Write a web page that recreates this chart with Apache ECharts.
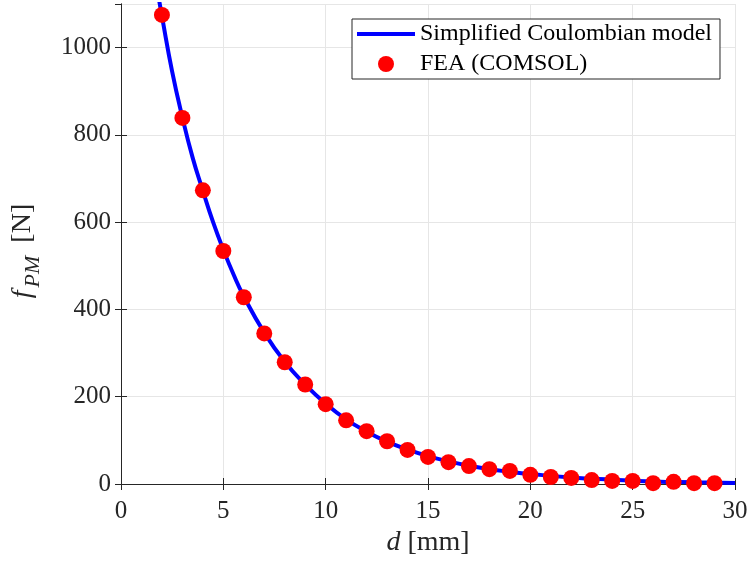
<!DOCTYPE html>
<html><head><meta charset="utf-8">
<script src="https://cdn.jsdelivr.net/npm/echarts@6/dist/echarts.min.js"></script>
<style>html,body{margin:0;padding:0;background:#fff}#c{width:749px;height:564px}</style>
</head><body><div id="c"></div>
<script>
// FEA (COMSOL) points
const feaD = [2,3,4,5,6,7,8,9,10,11,12,13,14,15,16,17,18,19,20,21,22,23,24,25,26,27,28,29];
const feaF = [1075,839,673,534,428,345,279,228,183,146,121,98,78,62,50,41,34,30,21,16,14,9,7,7,2,5,2,2];
// Simplified Coulombian model curve
const modelD = [1.8,2,2.5,3,3.5,4,4.5,5,5.5,6,7,8,9,10,11,12,13,14,15,16,17,18,19,20,22,24,26,28,30];
const modelF = [1125,1072,945,840,748,672,600,537,480,430,347,280,228,184,148,120,97,79,64,52,42,34,28,23,15,10,6,4,2.5];
const xTicks = {min:0, max:30, interval:5};
const yTicks = {min:0, max:1100, interval:200};

const chart = echarts.init(document.getElementById('c'));
const font = 'Liberation Serif, Times New Roman, serif';
const axisColor = '#262626';
chart.setOption({
  animation:false,
  grid:{left:121, right:14, top:4, bottom:80, outerBoundsMode:'none', containLabel:false},
  legend:{
    left:352, top:19, orient:'vertical', padding:[3,8,3,5], itemGap:6,
    itemWidth:58, itemHeight:16, selectedMode:false,
    backgroundColor:'#fff', borderColor:axisColor, borderWidth:1,
    textStyle:{fontFamily:font, fontSize:24, color:'#000', lineHeight:24},
    data:[
      {name:'Simplified Coulombian model', icon:'path://M0,0 H60 V4 H0 Z'},
      {name:'FEA (COMSOL)', icon:'circle'}
    ]
  },
  xAxis:[{
    type:'value', min:xTicks.min, max:xTicks.max, interval:xTicks.interval,
    name:'{i|d} [mm]', nameLocation:'middle', nameGap:44,
    nameTextStyle:{fontFamily:font, fontSize:28, color:axisColor, rich:{i:{fontFamily:font,fontSize:28,fontStyle:'italic',color:axisColor}}},
    axisLine:{lineStyle:{color:axisColor, width:1}},
    axisTick:{inside:true, length:6, lineStyle:{color:axisColor}},
    axisLabel:{fontFamily:font, fontSize:25, color:axisColor, margin:15},
    splitLine:{show:true, lineStyle:{color:'#e6e6e6', width:1}}
  },{
    type:'value', position:'top', min:xTicks.min, max:xTicks.max, interval:xTicks.interval,
    axisLine:{show:true, lineStyle:{color:axisColor}},
    axisTick:{inside:true, length:6, lineStyle:{color:axisColor}},
    axisLabel:{show:false}, splitLine:{show:false}
  }],
  yAxis:[{
    type:'value', min:yTicks.min, max:yTicks.max, interval:yTicks.interval,
    name:'{i|f}{s|PM} [N]', nameLocation:'middle', nameGap:77, nameRotate:90,
    nameTextStyle:{fontFamily:font, fontSize:28, color:axisColor, padding:[0,28,0,0],
      rich:{i:{fontFamily:font,fontSize:28,fontStyle:'italic',color:axisColor,padding:[0,3,0,14]},
            s:{fontFamily:font,fontSize:22,fontStyle:'italic',color:axisColor,padding:[20,6,0,0]}}},
    axisLine:{lineStyle:{color:axisColor, width:1}},
    axisTick:{inside:true, length:6, lineStyle:{color:axisColor}},
    axisLabel:{fontFamily:font, fontSize:25, color:axisColor, margin:10, showMaxLabel:false, formatter:v=>String(v)},
    splitLine:{show:true, lineStyle:{color:'#e6e6e6', width:1}}
  },{
    type:'value', position:'right', min:yTicks.min, max:yTicks.max, interval:yTicks.interval,
    axisLine:{show:true, lineStyle:{color:axisColor}},
    axisTick:{inside:true, length:6, lineStyle:{color:axisColor}},
    axisLabel:{show:false}, splitLine:{show:false}
  }],
  series:[{
    name:'Simplified Coulombian model', type:'line', smooth:true, showSymbol:false,
    data:modelD.map((d,i)=>[d, modelF[i]]),
    lineStyle:{color:'#0000ff', width:4}, itemStyle:{color:'#0000ff'}, clip:true, z:2
  },{
    name:'FEA (COMSOL)', type:'scatter', symbol:'circle', symbolSize:16,
    data:feaD.map((d,i)=>[d, feaF[i]]),
    itemStyle:{color:'#ff0000', opacity:1}, z:3
  }]
});
</script></body></html>
